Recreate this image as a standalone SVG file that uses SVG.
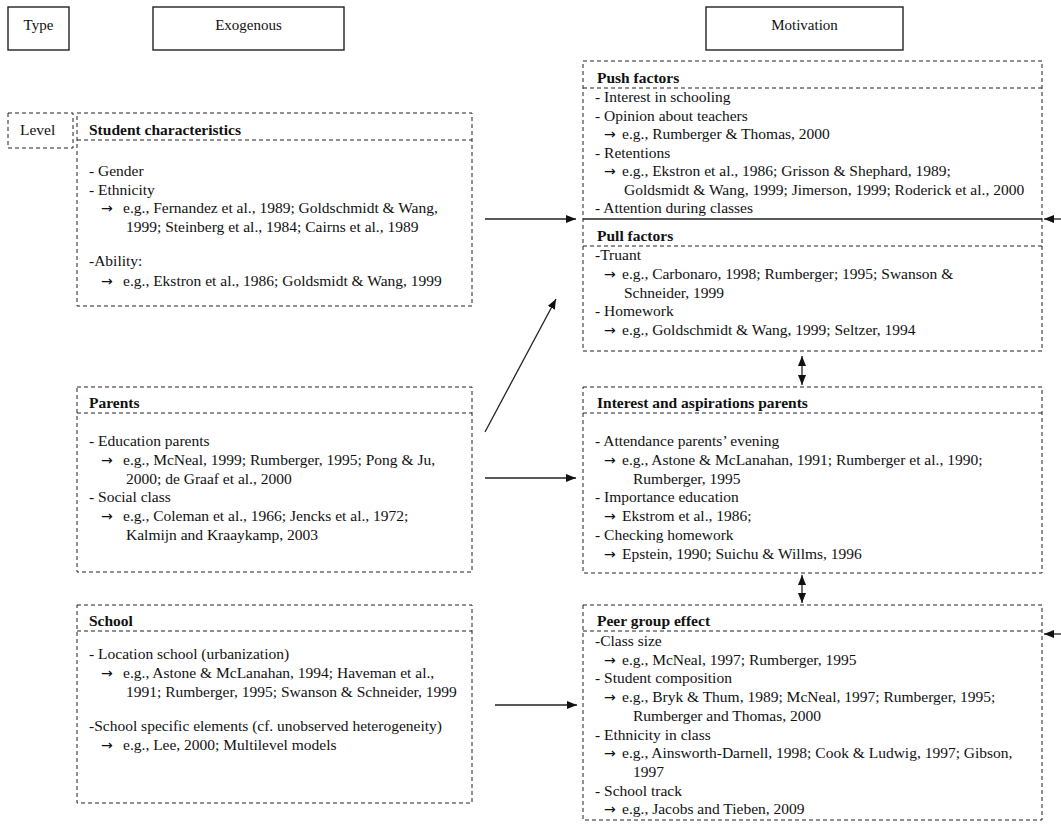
<svg xmlns="http://www.w3.org/2000/svg" width="1061" height="825" viewBox="0 0 1061 825">
<style>
.bg{fill:#fff}
.box{fill:none;stroke:#222;stroke-width:1;stroke-dasharray:4 3}
.sep{stroke:#222;stroke-width:1;stroke-dasharray:4 3}
.title{fill:#fff;stroke:#222;stroke-width:1.4}
text{font-family:"Liberation Serif","Times New Roman",serif;font-size:15.5px;fill:#111}
.b{font-weight:bold}
.c{text-anchor:middle;font-size:15px}
.ar{font-family:"DejaVu Sans",sans-serif;font-size:14px}
.conn line{stroke:#222;stroke-width:1.3;fill:none}
</style>
<defs>
<marker id="ah" markerUnits="userSpaceOnUse" markerWidth="11" markerHeight="9" refX="10" refY="4" orient="auto-start-reverse">
<path d="M0,0 L10,4 L0,8 z" fill="#111"/>
</marker>
</defs>
<rect class="bg" x="0" y="0" width="1061" height="825"/>

<g id="type">
<rect class="title" x="8" y="7" width="61" height="43"/>
<text class="c" x="38.5" y="30">Type</text>
</g>
<g id="exogenous">
<rect class="title" x="153" y="7" width="191" height="43"/>
<text class="c" x="248.5" y="30">Exogenous</text>
</g>
<g id="motivation">
<rect class="title" x="706" y="7" width="197" height="43"/>
<text class="c" x="804.5" y="30">Motivation</text>
</g>
<g id="level">
<rect class="box" x="8" y="113" width="65" height="35"/>
<text x="20" y="135">Level</text>
</g>

<g id="student">
<rect class="box" x="77" y="113" width="395" height="193"/>
<line class="sep" x1="77" y1="140" x2="472" y2="140"/>
<text class="b" x="89" y="135">Student characteristics</text>
<text x="89" y="176">- Gender</text>
<text x="89" y="195">- Ethnicity</text>
<text x="101" y="213"><tspan class="ar">→</tspan><tspan x="123">e.g., Fernandez et al., 1989; Goldschmidt &amp; Wang,</tspan></text>
<text x="126" y="232">1999; Steinberg et al., 1984; Cairns et al., 1989</text>
<text x="89" y="266">-Ability:</text>
<text x="101" y="286"><tspan class="ar">→</tspan><tspan x="123">e.g., Ekstron et al., 1986; Goldsmidt &amp; Wang, 1999</tspan></text>
</g>

<g id="parents">
<rect class="box" x="77" y="387" width="395" height="185"/>
<line class="sep" x1="77" y1="413" x2="472" y2="413"/>
<text class="b" x="89" y="408">Parents</text>
<text x="89" y="446">- Education parents</text>
<text x="101" y="465"><tspan class="ar">→</tspan><tspan x="123">e.g., McNeal, 1999; Rumberger, 1995; Pong &amp; Ju,</tspan></text>
<text x="126" y="484">2000; de Graaf et al., 2000</text>
<text x="89" y="502">- Social class</text>
<text x="101" y="521"><tspan class="ar">→</tspan><tspan x="123">e.g., Coleman et al., 1966; Jencks et al., 1972;</tspan></text>
<text x="126" y="540">Kalmijn and Kraaykamp, 2003</text>
</g>

<g id="school">
<rect class="box" x="77" y="605" width="395" height="198"/>
<line class="sep" x1="77" y1="631" x2="472" y2="631"/>
<text class="b" x="89" y="626">School</text>
<text x="89" y="659">- Location school (urbanization)</text>
<text x="101" y="678"><tspan class="ar">→</tspan><tspan x="123">e.g., Astone &amp; McLanahan, 1994; Haveman et al.,</tspan></text>
<text x="126" y="696.5">1991; Rumberger, 1995; Swanson &amp; Schneider, 1999</text>
<text x="89" y="731">-School specific elements (cf. unobserved heterogeneity)</text>
<text x="101" y="750"><tspan class="ar">→</tspan><tspan x="123">e.g., Lee, 2000; Multilevel models</tspan></text>
</g>

<g id="push-pull">
<rect class="box" x="583" y="61" width="459" height="290"/>
<line class="sep" x1="583" y1="88" x2="1042" y2="88"/>
<line x1="583" y1="219" x2="1042" y2="219" stroke="#222" stroke-width="1.3"/>
<line class="sep" x1="583" y1="246" x2="1042" y2="246"/>
<text class="b" x="597" y="83">Push factors</text>
<text x="595" y="102">- Interest in schooling</text>
<text x="595" y="120.5">- Opinion about teachers</text>
<text x="604" y="139"><tspan class="ar">→</tspan><tspan x="622">e.g., Rumberger &amp; Thomas, 2000</tspan></text>
<text x="595" y="157.5">- Retentions</text>
<text x="604" y="176"><tspan class="ar">→</tspan><tspan x="622">e.g., Ekstron et al., 1986; Grisson &amp; Shephard, 1989;</tspan></text>
<text x="624" y="195">Goldsmidt &amp; Wang, 1999; Jimerson, 1999; Roderick et al., 2000</text>
<text x="595" y="213">- Attention during classes</text>
<text class="b" x="597" y="241">Pull factors</text>
<text x="595" y="260">-Truant</text>
<text x="604" y="279"><tspan class="ar">→</tspan><tspan x="622">e.g., Carbonaro, 1998; Rumberger; 1995; Swanson &amp;</tspan></text>
<text x="624" y="297.5">Schneider, 1999</text>
<text x="595" y="316">- Homework</text>
<text x="604" y="335"><tspan class="ar">→</tspan><tspan x="622">e.g., Goldschmidt &amp; Wang, 1999; Seltzer, 1994</tspan></text>
</g>

<g id="interest">
<rect class="box" x="583" y="387" width="459" height="186"/>
<line class="sep" x1="583" y1="413" x2="1042" y2="413"/>
<text class="b" x="597" y="408">Interest and aspirations parents</text>
<text x="595" y="446">- Attendance parents’ evening</text>
<text x="604" y="465"><tspan class="ar">→</tspan><tspan x="622">e.g., Astone &amp; McLanahan, 1991; Rumberger et al., 1990;</tspan></text>
<text x="633" y="484">Rumberger, 1995</text>
<text x="595" y="502">- Importance education</text>
<text x="604" y="521"><tspan class="ar">→</tspan><tspan x="622">Ekstrom et al., 1986;</tspan></text>
<text x="595" y="540">- Checking homework</text>
<text x="604" y="559"><tspan class="ar">→</tspan><tspan x="622">Epstein, 1990; Suichu &amp; Willms, 1996</tspan></text>
</g>

<g id="peer">
<rect class="box" x="583" y="605" width="459" height="215"/>
<line class="sep" x1="583" y1="631" x2="1042" y2="631"/>
<text class="b" x="597" y="626">Peer group effect</text>
<text x="595" y="646">-Class size</text>
<text x="604" y="665"><tspan class="ar">→</tspan><tspan x="622">e.g., McNeal, 1997; Rumberger, 1995</tspan></text>
<text x="595" y="683">- Student composition</text>
<text x="604" y="702"><tspan class="ar">→</tspan><tspan x="622">e.g., Bryk &amp; Thum, 1989; McNeal, 1997; Rumberger, 1995;</tspan></text>
<text x="633" y="721">Rumberger and Thomas, 2000</text>
<text x="595" y="739.5">- Ethnicity in class</text>
<text x="604" y="758"><tspan class="ar">→</tspan><tspan x="622">e.g., Ainsworth-Darnell, 1998; Cook &amp; Ludwig, 1997; Gibson,</tspan></text>
<text x="633" y="777">1997</text>
<text x="595" y="795.5">- School track</text>
<text x="604" y="814"><tspan class="ar">→</tspan><tspan x="622">e.g., Jacobs and Tieben, 2009</tspan></text>
</g>

<g id="connectors" class="conn">
<line x1="485" y1="219" x2="576" y2="219" marker-end="url(#ah)"/>
<line x1="1061" y1="219" x2="1044" y2="219" marker-end="url(#ah)"/>
<line x1="485" y1="432" x2="556" y2="299" marker-end="url(#ah)"/>
<line x1="485" y1="478" x2="576" y2="478" marker-end="url(#ah)"/>
<line x1="495" y1="705" x2="577" y2="705" marker-end="url(#ah)"/>
<line x1="1061" y1="634" x2="1044" y2="634" marker-end="url(#ah)"/>
<line x1="802" y1="356" x2="802" y2="385" marker-start="url(#ah)" marker-end="url(#ah)"/>
<line x1="802" y1="575" x2="802" y2="603" marker-start="url(#ah)" marker-end="url(#ah)"/>
</g>
</svg>
